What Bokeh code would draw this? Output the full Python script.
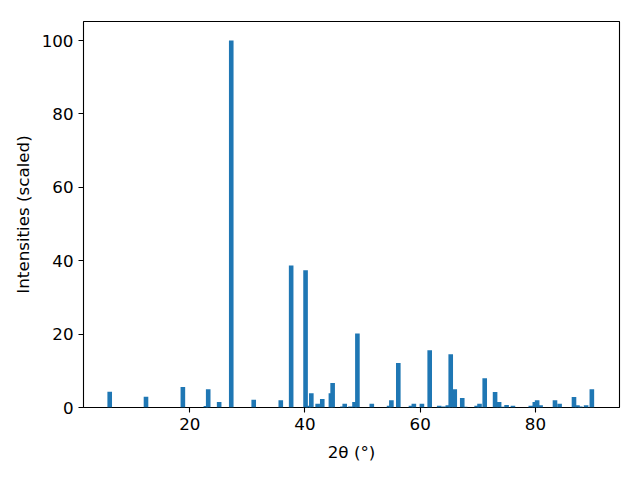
from bokeh.plotting import figure
from bokeh.models import Range1d, FixedTicker, ColumnDataSource
from bokeh.embed import file_html
from bokeh.resources import INLINE

two_theta = [6.1, 12.4, 18.8, 22.8, 23.2, 25.1, 27.2, 31.1, 35.8, 37.6,
             40.1, 40.6, 41.1, 42.2, 43.0, 44.5, 44.8, 46.5, 46.9, 47.9,
             48.6, 49.1, 51.6, 54.6, 55.0, 56.2, 58.4, 58.9, 60.3, 61.65,
             63.3, 64.1, 64.8, 65.3, 66.0, 67.3, 67.8, 69.8, 70.3, 71.2,
             73.0, 73.7, 74.3, 75.0, 76.1, 79.2, 79.9, 80.3, 80.9, 83.4,
             84.2, 86.7, 87.3, 87.8, 88.8, 89.8]
intensity = [4.3, 2.9, 5.6, 0.4, 5.0, 1.5, 100.0, 2.1, 2.0, 38.7,
             37.4, 0.5, 3.9, 1.0, 2.3, 3.9, 6.7, 0.3, 1.0, 0.3,
             1.5, 20.2, 1.0, 0.5, 2.0, 12.1, 0.5, 1.0, 1.0, 15.6,
             0.5, 0.3, 0.6, 14.5, 5.0, 2.6, 0.2, 0.5, 1.0, 8.0,
             4.2, 1.5, 0.2, 0.7, 0.5, 0.5, 1.5, 2.0, 0.6, 2.0,
             1.0, 2.85, 0.6, 0.3, 0.6, 5.0]
x_ticks = [20, 40, 60, 80]
y_ticks = [0, 20, 40, 60, 80, 100]

src = ColumnDataSource(dict(x=two_theta, top=intensity))

p = figure(width=624, height=464, output_backend="svg", toolbar_location=None,
           x_range=Range1d(1.55, 94.6), y_range=Range1d(0, 105.2),
           min_border_left=83, min_border_right=5, min_border_top=21,
           min_border_bottom=56)
p.vbar(x="x", top="top", width=0.8, bottom=0, source=src,
       fill_color="#1f77b4", line_color=None)

p.xgrid.visible = False
p.ygrid.visible = False
p.outline_line_color = "black"
p.outline_line_width = 1.1
p.background_fill_color = "white"
p.border_fill_color = "white"

for ax in (p.xaxis[0], p.yaxis[0]):
    ax.axis_line_color = None
    ax.major_tick_in = 0
    ax.major_tick_out = 5
    ax.major_tick_line_width = 1.1
    ax.major_tick_line_color = "black"
    ax.minor_tick_line_color = None
    ax.major_label_text_font = "DejaVu Sans"
    ax.major_label_text_font_size = "16.7px"
    ax.major_label_text_color = "black"
    ax.axis_label_text_font = "DejaVu Sans"
    ax.axis_label_text_font_size = "16.7px"
    ax.axis_label_text_font_style = "normal"
    ax.axis_label_text_color = "black"
    ax.major_label_standoff = 5

p.xaxis.ticker = FixedTicker(ticks=x_ticks)
p.yaxis.ticker = FixedTicker(ticks=y_ticks)
p.xaxis.axis_label = "2θ (°)"
p.yaxis.axis_label = "Intensities (scaled)"
p.xaxis.axis_label_standoff = 9
p.yaxis.axis_label_standoff = 6

open("out.html", "w").write(file_html(p, INLINE))
